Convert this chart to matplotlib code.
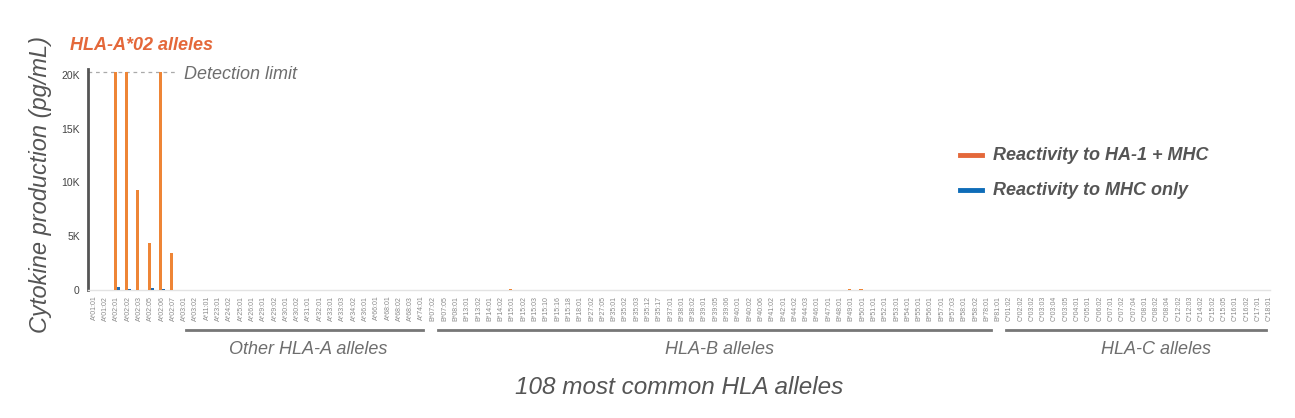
import matplotlib
matplotlib.use('Agg')
import matplotlib.pyplot as plt
import matplotlib.transforms as mtransforms
import numpy as np

plt.rcParams['font.family'] = ['Liberation Sans', 'DejaVu Sans']

# Alleles
a_alleles = ['A*01:01', 'A*01:02', 'A*02:01', 'A*02:02', 'A*02:03', 'A*02:05', 'A*02:06', 'A*02:07',
             'A*03:01', 'A*03:02', 'A*11:01', 'A*23:01', 'A*24:02', 'A*25:01', 'A*26:01', 'A*29:01',
             'A*29:02', 'A*30:01', 'A*30:02', 'A*31:01', 'A*32:01', 'A*33:01', 'A*33:03', 'A*34:02',
             'A*36:01', 'A*66:01', 'A*68:01', 'A*68:02', 'A*68:03', 'A*74:01']
b_alleles = ['B*07:02', 'B*07:05', 'B*08:01', 'B*13:01', 'B*13:02', 'B*14:01', 'B*14:02', 'B*15:01',
             'B*15:02', 'B*15:03', 'B*15:10', 'B*15:16', 'B*15:18', 'B*18:01', 'B*27:02', 'B*27:05',
             'B*35:01', 'B*35:02', 'B*35:03', 'B*35:12', 'B*35:17', 'B*37:01', 'B*38:01', 'B*38:02',
             'B*39:01', 'B*39:05', 'B*39:06', 'B*40:01', 'B*40:02', 'B*40:06', 'B*41:02', 'B*42:01',
             'B*44:02', 'B*44:03', 'B*46:01', 'B*47:01', 'B*48:01', 'B*49:01', 'B*50:01', 'B*51:01',
             'B*52:01', 'B*53:01', 'B*54:01', 'B*55:01', 'B*56:01', 'B*57:01', 'B*57:03', 'B*58:01',
             'B*58:02', 'B*78:01', 'B*81:01']
c_alleles = ['C*01:02', 'C*02:02', 'C*03:02', 'C*03:03', 'C*03:04', 'C*03:05', 'C*04:01', 'C*05:01',
             'C*06:02', 'C*07:01', 'C*07:02', 'C*07:04', 'C*08:01', 'C*08:02', 'C*08:04', 'C*12:02',
             'C*12:03', 'C*14:02', 'C*15:02', 'C*15:05', 'C*16:01', 'C*16:02', 'C*17:01', 'C*18:01']

# Reactivity to HA-1 + MHC (pg/mL)
a_ha1 = [0, 0, 20300, 20300, 9300, 4400, 20300, 3400,
         0, 0, 0, 0, 0, 0, 0, 0, 0, 0, 0, 0, 0, 0, 0, 0, 0, 0, 0, 0, 0, 0]
b_ha1 = [0] * 51
b_ha1[7] = 90
b_ha1[20] = 40
b_ha1[37] = 90
b_ha1[38] = 60
c_ha1 = [0] * 24

# Reactivity to MHC only (pg/mL)
a_mhc = [0, 0, 300, 100, 0, 150, 100, 0,
         0, 0, 0, 0, 0, 0, 0, 0, 0, 0, 0, 0, 0, 0, 0, 0, 0, 0, 0, 0, 0, 0]
b_mhc = [0] * 51
b_mhc[7] = 40
c_mhc = [0] * 24

detection_limit = 20300

alleles = a_alleles + b_alleles + c_alleles
ha1 = np.array(a_ha1 + b_ha1 + c_ha1)
mhc = np.array(a_mhc + b_mhc + c_mhc)
x = np.arange(len(alleles))

orange = '#EE8536'
blue = '#1F6DB5'
gray_text = '#6E6E6E'

fig = plt.figure(figsize=(12.95, 4.18), dpi=100)
ax = fig.add_axes([0.068, 0.306, 0.913, 0.528])

w = 0.28
ax.bar(x - w / 2, ha1, width=w, color=orange, zorder=3)
ax.bar(x + w / 2, mhc, width=w, color=blue, zorder=3)

ax.set_xlim(-0.55, len(alleles) - 0.9)
ax.set_ylim(0, 20500)

ax.set_xticks(x)
ax.set_xticklabels(alleles, rotation=90, fontsize=5, color='#8A8A8A')
ax.tick_params(axis='x', length=0, pad=4)
ax.set_yticks([0, 5000, 10000, 15000, 20000])
ax.set_yticklabels(['0', '5K', '10K', '15K', '20K'], fontsize=7.5, color='#444444')
ax.tick_params(axis='y', length=0, pad=6)

for s in ['top', 'right']:
    ax.spines[s].set_visible(False)
ax.spines['left'].set_color('#555555')
ax.spines['left'].set_linewidth(2)
ax.spines['bottom'].set_color('#E3E3E3')
ax.spines['bottom'].set_linewidth(1)

# Detection limit
ax.plot([-0.55, 7.3], [detection_limit, detection_limit], ls=(0, (3, 3)), color='#AAAAAA', lw=0.9, zorder=2)
ax.text(7.9, detection_limit - 250, 'Detection limit', fontsize=13, style='italic', color=gray_text,
        va='center', ha='left')

# Title
fig.text(0.054, 0.892, 'HLA-A*02 alleles', fontsize=13, style='italic', weight='bold', color='#E4683A',
         va='center')

# Group brackets: (label, line start, line end, label centre)
trans = mtransforms.blended_transform_factory(ax.transData, ax.transAxes)
groups = [('Other HLA-A alleles', 8.1, 29.1, 18.9),
          ('HLA-B alleles', 30.4, 79.4, 55.3),
          ('HLA-C alleles', 80.7, 103.7, 94.0)]
for name, x0, x1, xc in groups:
    ax.plot([x0, x1], [-0.182, -0.182], color='#777777', lw=2, transform=trans, clip_on=False)
    ax.text(xc, -0.27, name, transform=trans, ha='center', va='center',
            fontsize=13, style='italic', color=gray_text)

ax.text(0.5, -0.44, '108 most common HLA alleles', transform=ax.transAxes, ha='center', va='center',
        fontsize=17.5, style='italic', color='#555555')
fig.text(0.031, 0.558, 'Cytokine production (pg/mL)', rotation=90, ha='center', va='center',
         fontsize=17, style='italic', color='#555555')

# Legend
legend_items = [('Reactivity to HA-1 + MHC', '#E4683A'), ('Reactivity to MHC only', '#0E6CB8')]
for k, (label, c) in enumerate(legend_items):
    yy = 0.628 - k * 0.083
    fig.add_artist(plt.Line2D([0.741, 0.758], [yy, yy], color=c, lw=3.5, transform=fig.transFigure))
    fig.text(0.767, yy, label, fontsize=13, style='italic', weight='bold', color='#555555', va='center')

fig.savefig('out.png', dpi=100)
